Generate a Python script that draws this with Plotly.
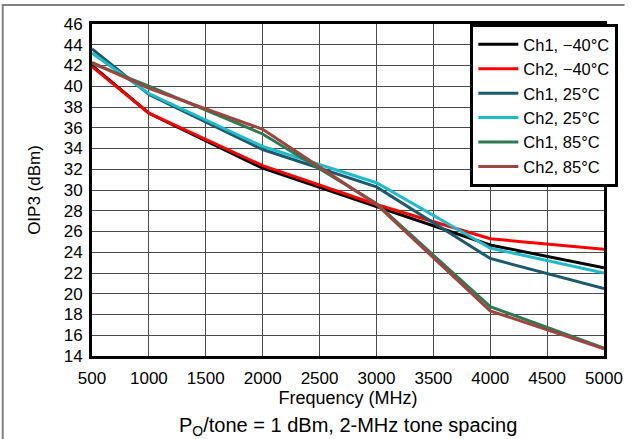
import plotly.graph_objects as go

freq = [500, 1000, 2000, 3000, 4000, 5000]
ch1_m40 = [42.0, 37.4, 32.1, 28.4, 24.7, 22.5]
ch2_m40 = [41.9, 37.4, 32.35, 28.6, 25.3, 24.3]
ch1_25 = [43.6, 39.2, 33.9, 30.3, 23.4, 20.5]
ch2_25 = [43.2, 39.3, 34.2, 30.7, 24.4, 22.0]
ch1_85 = [42.2, 40.0, 35.4, 28.7, 18.75, 14.75]
ch2_85 = [42.3, 39.8, 35.85, 28.6, 18.35, 14.7]

names = ["Ch1, \u221240\u00b0C", "Ch2, \u221240\u00b0C", "Ch1, 25\u00b0C", "Ch2, 25\u00b0C", "Ch1, 85\u00b0C", "Ch2, 85\u00b0C"]
series = [ch1_m40, ch2_m40, ch1_25, ch2_25, ch1_85, ch2_85]
colors = ["#000000", "#ff0000", "#1c5a6b", "#1cbccc", "#2e7a52", "#a04440"]

fig = go.Figure()
for n, s, c in zip(names, series, colors):
    fig.add_trace(go.Scatter(x=freq, y=s, name=n, mode="lines", line=dict(color=c, width=3)))

font = "Liberation Sans, Arial, sans-serif"
L, R, T, B = 92, 21, 24, 83
W, H = 635, 439
pw = W - L - R
ph = H - T - B

fig.update_layout(
    width=W, height=H,
    margin=dict(l=L, r=R, t=T, b=B),
    paper_bgcolor="white", plot_bgcolor="white",
    font=dict(family=font, size=17, color="black"),
    showlegend=True,
    legend=dict(x=1.028, y=1, xanchor="right", yanchor="top",
                bordercolor="black", borderwidth=3, bgcolor="white",
                font=dict(size=16.5), tracegroupgap=0, itemwidth=40),
    xaxis=dict(range=[500, 5000], dtick=500, tick0=500, showgrid=True,
               gridcolor="#4a4a4a", gridwidth=1, showline=True, linecolor="black",
               linewidth=3, mirror=True, ticks="", tickfont=dict(size=17),
               ticklabelstandoff=5,
               title=dict(text="Frequency (MHz)", font=dict(size=18), standoff=4),
               zeroline=False),
    yaxis=dict(range=[14, 46], dtick=2, tick0=14, showgrid=True,
               gridcolor="#4a4a4a", gridwidth=1, showline=True, linecolor="black",
               linewidth=3, mirror=True, ticks="", tickfont=dict(size=17),
               ticklabelstandoff=3,
               title=dict(text="OIP3 (dBm)", font=dict(size=17), standoff=19),
               zeroline=False),
    annotations=[dict(text="P<sub>O</sub>/tone = 1 dBm, 2-MHz tone spacing",
                      x=0.5, xref="paper", y=(H - B - 426) / ph, yref="paper", yanchor="middle",
                      showarrow=False, font=dict(size=20))],
    shapes=[
        dict(type="line", xref="paper", yref="paper", x0=-L / pw, x1=(W - L) / pw,
             y0=(H - B - 5) / ph, y1=(H - B - 5) / ph, line=dict(color="#808080", width=2)),
        dict(type="line", xref="paper", yref="paper", x0=-(L - 1) / pw, x1=-(L - 1) / pw,
             y0=(H - B - 5) / ph, y1=-B / ph, line=dict(color="#808080", width=2)),
    ],
)
fig.write_html("out.html")
